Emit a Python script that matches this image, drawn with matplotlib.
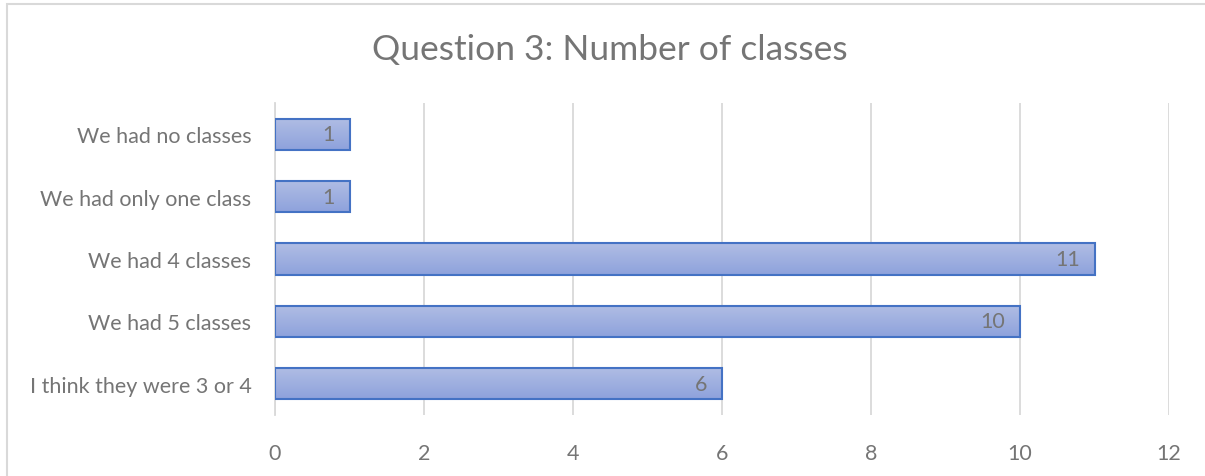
import numpy as np
import matplotlib.pyplot as plt
from matplotlib.patches import Rectangle
from matplotlib.colors import LinearSegmentedColormap

# ── data ──────────────────────────────────────────────────────────────────────
categories = ["We had no classes", "We had only one class", "We had 4 classes",
              "We had 5 classes", "I think they were 3 or 4"]
counts = [1, 1, 11, 10, 6]
xticks = [0, 2, 4, 6, 8, 10, 12]

plt.rcParams["font.family"] = ["Lato", "DejaVu Sans"]
GRAY = "#757575"

fig = plt.figure(figsize=(12.05, 4.77), dpi=100)
ax = fig.add_axes([275 / 1205, 1 - 416 / 477, (1169 - 275) / 1205, 312 / 477])

# chart border (only left/top visible in reference)
fig.add_artist(Rectangle((7 / 1205, -0.1), 1.2, 1 - 5 / 477 + 0.1,
                         transform=fig.transFigure, fill=False,
                         edgecolor="#d9d9d9", lw=1.5))

y = np.arange(len(categories))
cmap = LinearSegmentedColormap.from_list("g", ["#b0bde4", "#8ea2dc"])
grad = np.linspace(0, 1, 64).reshape(-1, 1)

bars = ax.barh(y, counts, height=0.5, color="none", edgecolor="#4472c4",
               linewidth=1.5, zorder=3)
for b, n in zip(bars, counts):
    x0, y0, w, h = b.get_x(), b.get_y(), b.get_width(), b.get_height()
    im = ax.imshow(grad, extent=[x0, x0 + w, y0 + h, y0], aspect="auto",
                   cmap=cmap, origin="upper", zorder=2)
    im.set_clip_path(b)
    ax.text(x0 + w - 0.2, y0 + h / 2, str(n),
            ha="right", va="center", color=GRAY, fontsize=15.5, zorder=4)

ax.set_xlim(0, 12)
ax.set_ylim(len(categories) - 0.5, -0.5)
ax.set_xticks(xticks)
ax.set_yticks(y)
ax.set_yticklabels(categories)
ax.tick_params(axis="both", length=0, colors=GRAY, labelsize=15.5)
ax.tick_params(axis="x", pad=20)
ax.tick_params(axis="y", pad=17)
ax.grid(axis="x", color="#d9d9d9", lw=1.3, zorder=0)
for s in ["top", "right", "bottom"]:
    ax.spines[s].set_visible(False)
ax.spines["left"].set_color("#d9d9d9")
ax.spines["left"].set_linewidth(1.3)

fig.text(610 / 1205, 1 - 50 / 477, "Question 3: Number of classes",
         ha="center", va="center", fontsize=25.5, color=GRAY)

fig.savefig("out.png", dpi=100)
